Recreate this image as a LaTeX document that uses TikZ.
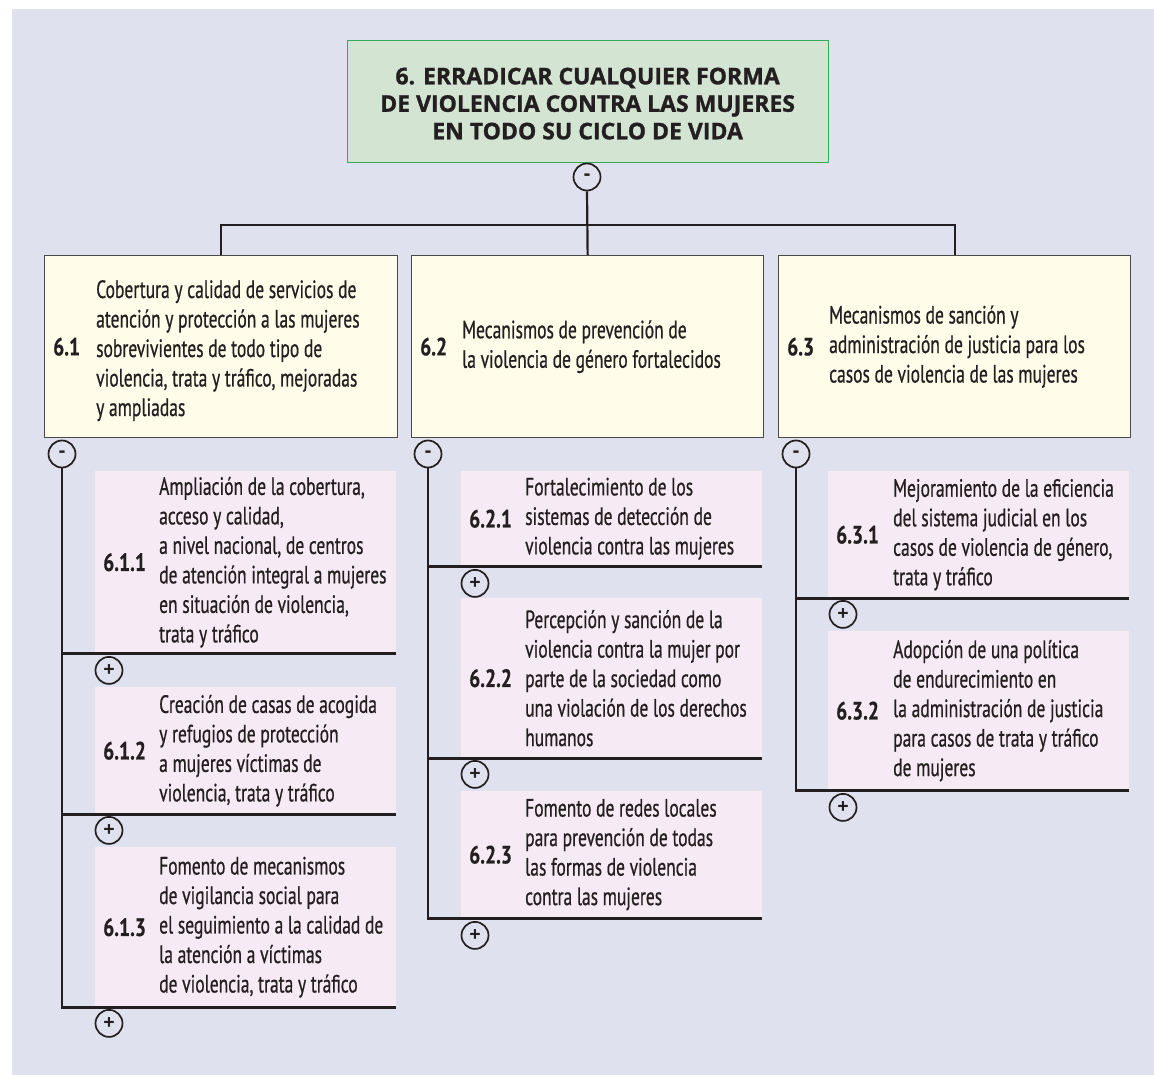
\documentclass[tikz,border=0pt]{standalone}
\usepackage{fontspec}
\setmainfont{PT Sans}[FakeStretch=0.7, FakeBold=0.6]
\newfontfamily\numfont{PT Sans}[FakeStretch=0.78, FakeBold=0.5]
\newfontfamily\titlefont{Open Sans}[FakeBold=1.2]
\newfontfamily\togglefont{Open Sans}
\definecolor{bg}{HTML}{DFE1EE}
\definecolor{goalfill}{HTML}{D3E4D3}
\definecolor{goalborder}{HTML}{35A85C}
\definecolor{objfill}{HTML}{FFFCEA}
\definecolor{objborder}{HTML}{4A4A4C}
\definecolor{subfill}{HTML}{F6EAF4}
\definecolor{ink}{HTML}{231F20}
\tikzset{
  goal/.style={draw=goalborder, fill=goalfill, line width=1.2pt, minimum width=481pt, minimum height=122pt, anchor=north west, inner sep=0pt},
  objbox/.style={draw=objborder, fill=objfill, line width=1.3pt, minimum width=353pt, minimum height=182pt, anchor=north west, inner sep=0pt},
  subbox/.style={fill=subfill, minimum width=301pt, anchor=north west, inner sep=0pt},
  num/.style={font=\numfont\bfseries\fontsize{25}{29}\selectfont, anchor=west, inner sep=0pt, text=ink},
  body/.style={font=\fontsize{25}{29.5}\selectfont, align=left, anchor=west, inner sep=0pt, text=ink},
  titletext/.style={font=\titlefont\bfseries\fontsize{23}{27.5}\selectfont, align=center, inner sep=0pt, text=ink},
  toggle/.style={circle, draw=ink, line width=1.7pt, minimum size=27pt, inner sep=0pt, fill=bg, text=ink, font=\togglefont\bfseries\fontsize{20}{20}\selectfont},
  conn/.style={draw=ink, line width=2.2pt},
}
\begin{document}
\begin{tikzpicture}[x=1pt, y=-1pt]
\useasboundingbox (0,0) rectangle (1154,1075);
\fill[white] (0,0) rectangle (1154,1075);
\fill[bg] (12,9) rectangle (1154,1075);

% goal
\node[goal] (goal) at (346.5,40) {};
\node[titletext] (goaltxt) at ([yshift=-2pt]goal.center) {6. ERRADICAR CUALQUIER FORMA\\DE VIOLENCIA CONTRA LAS MUJERES\\EN TODO SU CICLO DE VIDA};
\node[toggle] (m0) at (587,177) {-};
\coordinate (bus) at (0,225);

% objectives
\node[objbox] (b1) at (44,255) {};
\node[objbox, minimum width=352pt] (b2) at (411,255) {};
\node[objbox, minimum width=352pt] (b3) at (778,255) {};
\node[num] (b1n) at ([xshift=9pt]b1.west) {6.1};
\node[body] (b1t) at ([xshift=52pt,yshift=-4pt]b1.west) {Cobertura y calidad de servicios de\\atención y protección a las mujeres\\sobrevivientes de todo tipo de\\violencia, trata y tráfico, mejoradas\\y ampliadas};
\node[num] (b2n) at ([xshift=9pt]b2.west) {6.2};
\node[body] (b2t) at ([xshift=51pt]b2.west) {Mecanismos de prevención de\\la violencia de género fortalecidos};
\node[num] (b3n) at ([xshift=9pt]b3.west) {6.3};
\node[body] (b3t) at ([xshift=51pt]b3.west) {Mecanismos de sanción y\\administración de justicia para los\\casos de violencia de las mujeres};

\draw[conn] (m0.south) -- (b2.north);
\draw[conn] (b1.north) -- (b1.north |- bus) -- (b3.north |- bus) -- (b3.north);

\node[toggle] (m1) at (62,454) {-};
\node[toggle] (m2) at (428,454) {-};
\node[toggle] (m3) at (796,454) {-};

% column 1
\node[subbox, minimum height=182pt] (s11) at (95,471) {};
\node[subbox, minimum height=127pt] (s12) at (95,687) {};
\node[subbox, minimum height=160pt] (s13) at (95,847) {};
\node[num] at ([xshift=8pt]s11.west) {6.1.1};
\node[body] at ([xshift=64pt]s11.west) {Ampliación de la cobertura,\\acceso y calidad,\\a nivel nacional, de centros\\de atención integral a mujeres\\en situación de violencia,\\trata y tráfico};
\node[num] at ([xshift=8pt]s12.west) {6.1.2};
\node[body] at ([xshift=64pt]s12.west) {Creación de casas de acogida\\y refugios de protección\\a mujeres víctimas de\\violencia, trata y tráfico};
\node[num] at ([xshift=8pt]s13.west) {6.1.3};
\node[body] at ([xshift=64pt]s13.west) {Fomento de mecanismos\\de vigilancia social para\\el seguimiento a la calidad de\\la atención a víctimas\\de violencia, trata y tráfico};
\draw[conn] (m1.south) -- (m1.south |- s13.south) -- (s13.south east);
\draw[conn] (m1.south |- s11.south) -- (s11.south east);
\draw[conn] (m1.south |- s12.south) -- (s12.south east);
\node[toggle] (p11) at ([xshift=14pt,yshift=-17pt]s11.south west) {+};
\node[toggle] (p12) at ([xshift=14pt,yshift=-16pt]s12.south west) {+};
\node[toggle] (p13) at ([xshift=14pt,yshift=-16pt]s13.south west) {+};

% column 2
\node[subbox, minimum height=95pt] (s21) at (461,471) {};
\node[subbox, minimum height=160pt] (s22) at (461,598) {};
\node[subbox, minimum height=127pt] (s23) at (461,791) {};
\node[num] at ([xshift=8pt]s21.west) {6.2.1};
\node[body] at ([xshift=64pt]s21.west) {Fortalecimiento de los\\sistemas de detección de\\violencia contra las mujeres};
\node[num] at ([xshift=8pt]s22.west) {6.2.2};
\node[body] at ([xshift=64pt]s22.west) {Percepción y sanción de la\\violencia contra la mujer por\\parte de la sociedad como\\una violación de los derechos\\humanos};
\node[num] at ([xshift=8pt]s23.west) {6.2.3};
\node[body] at ([xshift=64pt]s23.west) {Fomento de redes locales\\para prevención de todas\\las formas de violencia\\contra las mujeres};
\draw[conn] (m2.south) -- (m2.south |- s23.south) -- (s23.south east);
\draw[conn] (m2.south |- s21.south) -- (s21.south east);
\draw[conn] (m2.south |- s22.south) -- (s22.south east);
\node[toggle] (p21) at ([xshift=14pt,yshift=-17pt]s21.south west) {+};
\node[toggle] (p22) at ([xshift=14pt,yshift=-16pt]s22.south west) {+};
\node[toggle] (p23) at ([xshift=14pt,yshift=-17pt]s23.south west) {+};

% column 3
\node[subbox, minimum height=127pt] (s31) at (828,471) {};
\node[subbox, minimum height=159pt] (s32) at (828,631) {};
\node[num] at ([xshift=8pt]s31.west) {6.3.1};
\node[body] at ([xshift=65pt]s31.west) {Mejoramiento de la eficiencia\\del sistema judicial en los\\casos de violencia de género,\\trata y tráfico};
\node[num] at ([xshift=8pt]s32.west) {6.3.2};
\node[body] at ([xshift=65pt]s32.west) {Adopción de una política\\de endurecimiento en\\la administración de justicia\\para casos de trata y tráfico\\de mujeres};
\draw[conn] (m3.south) -- (m3.south |- s32.south) -- (s32.south east);
\draw[conn] (m3.south |- s31.south) -- (s31.south east);
\node[toggle] (p31) at ([xshift=15pt,yshift=-16pt]s31.south west) {+};
\node[toggle] (p32) at ([xshift=15pt,yshift=-17pt]s32.south west) {+};
\end{tikzpicture}
\end{document}
